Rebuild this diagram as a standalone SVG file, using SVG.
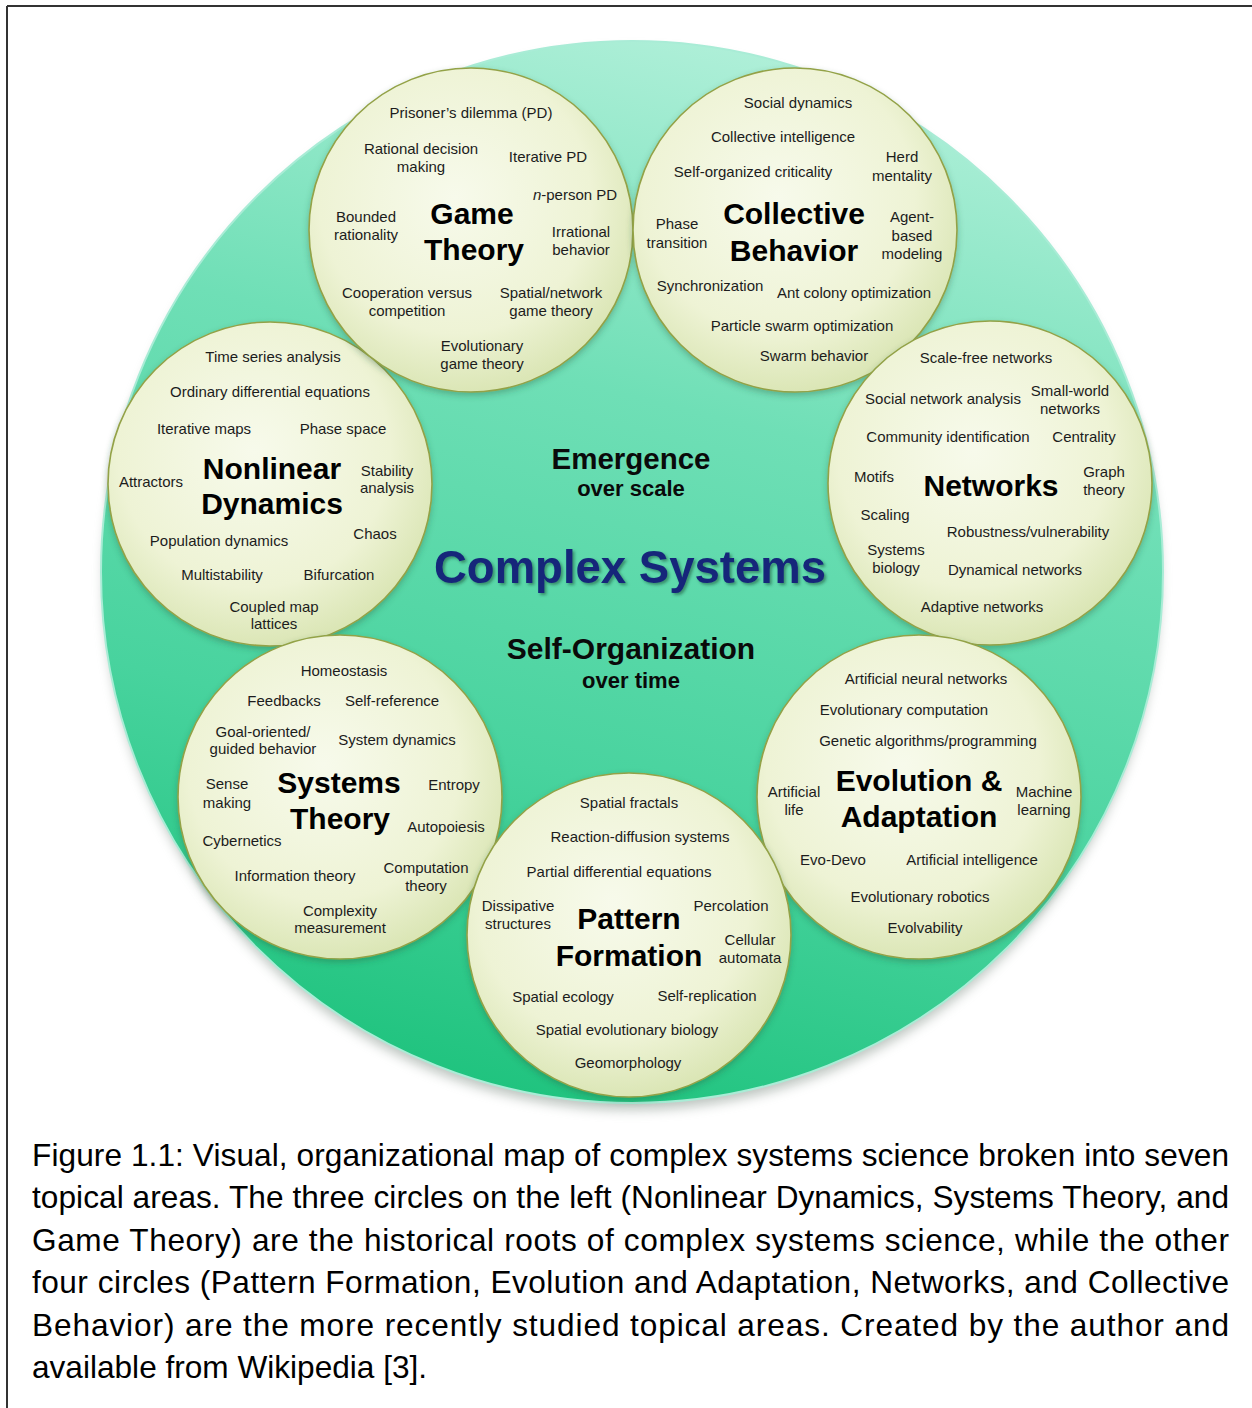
<svg xmlns="http://www.w3.org/2000/svg" width="1252" height="1408" viewBox="0 0 1252 1408">
<style>
.t{font-family:"Liberation Sans",Arial,sans-serif;font-size:15px;fill:#1c1c1c;text-anchor:middle}
.h{font-family:"Liberation Sans",Arial,sans-serif;font-size:30px;font-weight:bold;fill:#000;text-anchor:middle}
.c{font-family:"Liberation Sans",Arial,sans-serif;font-weight:bold;fill:#0a0a0a;text-anchor:middle}
.cap{font-family:"Liberation Sans",Arial,sans-serif;font-size:31.6px;fill:#000}
.node{fill:url(#small);stroke:#93a247;stroke-width:1.6;filter:url(#sh)}
</style>
<defs>
<linearGradient id="big" x1="0.65" y1="0" x2="0.4" y2="1">
<stop offset="0" stop-color="#b2f0da"/>
<stop offset="0.35" stop-color="#6fdfb6"/>
<stop offset="0.7" stop-color="#48d39e"/>
<stop offset="1" stop-color="#1fc37e"/>
</linearGradient>
<radialGradient id="small" cx="0.45" cy="0.4" r="0.6">
<stop offset="0" stop-color="#f7faeb"/>
<stop offset="0.7" stop-color="#eef3d5"/>
<stop offset="1" stop-color="#dbe6b6"/>
</radialGradient>
<filter id="blur" x="-20%" y="-20%" width="140%" height="140%"><feGaussianBlur stdDeviation="6"/></filter>
<filter id="sh" x="-10%" y="-10%" width="120%" height="125%"><feDropShadow dx="0" dy="3" stdDeviation="3" flood-color="#2a5a3a" flood-opacity="0.35"/></filter>
<filter id="tsh" x="-5%" y="-20%" width="110%" height="140%"><feDropShadow dx="2" dy="2" stdDeviation="1.5" flood-color="#1d5a40" flood-opacity="0.6"/></filter>
</defs>
<g id="frame" stroke="#333" stroke-width="2">
<line x1="7" y1="6" x2="1252" y2="6"/>
<line x1="7" y1="6" x2="7" y2="1408"/>
</g>
<g id="background">
<ellipse cx="632" cy="580" rx="528" ry="530" fill="#7a8a80" opacity="0.5" filter="url(#blur)"/>
<circle cx="632" cy="572" r="531" fill="url(#big)" stroke="#a9ecd6" stroke-width="2"/>
</g>
<g id="connectors"/>
<g id="center-labels">
<text class="c" x="631" y="469" font-size="29.5">Emergence</text>
<text class="c" x="631" y="496" font-size="22">over scale</text>
<text class="c" x="630" y="583" font-size="45.5" fill="#13277a" style="fill:#13277a" filter="url(#tsh)">Complex Systems</text>
<text class="c" x="631" y="659" font-size="30">Self-Organization</text>
<text class="c" x="631" y="688" font-size="22">over time</text>
</g>
<g id="nonlinear-dynamics">
<circle class="node" cx="270" cy="484" r="162"/>
<text class="t" x="273" y="362">Time series analysis</text>
<text class="t" x="270" y="397">Ordinary differential equations</text>
<text class="t" x="204" y="434">Iterative maps</text>
<text class="t" x="343" y="434">Phase space</text>
<text class="t" x="151" y="487">Attractors</text>
<text class="h"><tspan x="272" y="479">Nonlinear</tspan><tspan x="272" y="514">Dynamics</tspan></text>
<text class="t"><tspan x="387" y="476">Stability</tspan><tspan x="387" y="493">analysis</tspan></text>
<text class="t" x="219" y="546">Population dynamics</text>
<text class="t" x="375" y="539">Chaos</text>
<text class="t" x="222" y="580">Multistability</text>
<text class="t" x="339" y="580">Bifurcation</text>
<text class="t"><tspan x="274" y="612">Coupled map</tspan><tspan x="274" y="629">lattices</tspan></text>
</g>
<g id="game-theory">
<circle class="node" cx="471" cy="230" r="162"/>
<text class="t" x="471" y="118">Prisoner’s dilemma (PD)</text>
<text class="t"><tspan x="421" y="154">Rational decision</tspan><tspan x="421" y="172">making</tspan></text>
<text class="t" x="548" y="162">Iterative PD</text>
<text class="t" x="575" y="200"><tspan font-style="italic">n</tspan>-person PD</text>
<text class="t"><tspan x="366" y="222">Bounded</tspan><tspan x="366" y="240">rationality</tspan></text>
<text class="h"><tspan x="472" y="224">Game</tspan><tspan x="474" y="260">Theory</tspan></text>
<text class="t"><tspan x="581" y="237">Irrational</tspan><tspan x="581" y="255">behavior</tspan></text>
<text class="t"><tspan x="407" y="298">Cooperation versus</tspan><tspan x="407" y="316">competition</tspan></text>
<text class="t"><tspan x="551" y="298">Spatial/network</tspan><tspan x="551" y="316">game theory</tspan></text>
<text class="t"><tspan x="482" y="351">Evolutionary</tspan><tspan x="482" y="369">game theory</tspan></text>
</g>
<g id="collective-behavior">
<circle class="node" cx="795" cy="230" r="162"/>
<text class="t" x="798" y="108">Social dynamics</text>
<text class="t" x="783" y="142">Collective intelligence</text>
<text class="t" x="753" y="177">Self-organized criticality</text>
<text class="t"><tspan x="902" y="162">Herd</tspan><tspan x="902" y="181">mentality</tspan></text>
<text class="h"><tspan x="794" y="224">Collective</tspan><tspan x="794" y="261">Behavior</tspan></text>
<text class="t"><tspan x="677" y="229">Phase</tspan><tspan x="677" y="248">transition</tspan></text>
<text class="t"><tspan x="912" y="222">Agent-</tspan><tspan x="912" y="241">based</tspan><tspan x="912" y="259">modeling</tspan></text>
<text class="t" x="710" y="291">Synchronization</text>
<text class="t" x="854" y="298">Ant colony optimization</text>
<text class="t" x="802" y="331">Particle swarm optimization</text>
<text class="t" x="814" y="361">Swarm behavior</text>
</g>
<g id="networks">
<circle class="node" cx="990" cy="483" r="162"/>
<text class="t" x="986" y="363">Scale-free networks</text>
<text class="t" x="943" y="404">Social network analysis</text>
<text class="t"><tspan x="1070" y="396">Small-world</tspan><tspan x="1070" y="414">networks</tspan></text>
<text class="t" x="948" y="442">Community identification</text>
<text class="t" x="1084" y="442">Centrality</text>
<text class="t" x="874" y="482">Motifs</text>
<text class="h" x="991" y="496">Networks</text>
<text class="t"><tspan x="1104" y="477">Graph</tspan><tspan x="1104" y="495">theory</tspan></text>
<text class="t" x="885" y="520">Scaling</text>
<text class="t" x="1028" y="537">Robustness/vulnerability</text>
<text class="t"><tspan x="896" y="555">Systems</tspan><tspan x="896" y="573">biology</tspan></text>
<text class="t" x="1015" y="575">Dynamical networks</text>
<text class="t" x="982" y="612">Adaptive networks</text>
</g>
<g id="systems-theory">
<circle class="node" cx="340" cy="797" r="162"/>
<text class="t" x="344" y="676">Homeostasis</text>
<text class="t" x="284" y="706">Feedbacks</text>
<text class="t" x="392" y="706">Self-reference</text>
<text class="t"><tspan x="263" y="737">Goal-oriented/</tspan><tspan x="263" y="754">guided behavior</tspan></text>
<text class="t" x="397" y="745">System dynamics</text>
<text class="t"><tspan x="227" y="789">Sense</tspan><tspan x="227" y="808">making</tspan></text>
<text class="h"><tspan x="339" y="793">Systems</tspan><tspan x="340" y="829">Theory</tspan></text>
<text class="t" x="454" y="790">Entropy</text>
<text class="t" x="446" y="832">Autopoiesis</text>
<text class="t" x="242" y="846">Cybernetics</text>
<text class="t" x="295" y="881">Information theory</text>
<text class="t"><tspan x="426" y="873">Computation</tspan><tspan x="426" y="891">theory</tspan></text>
<text class="t"><tspan x="340" y="916">Complexity</tspan><tspan x="340" y="933">measurement</tspan></text>
</g>
<g id="evolution-adaptation">
<circle class="node" cx="919" cy="797" r="162"/>
<text class="t" x="926" y="684">Artificial neural networks</text>
<text class="t" x="904" y="715">Evolutionary computation</text>
<text class="t" x="928" y="746">Genetic algorithms/programming</text>
<text class="h"><tspan x="919" y="791">Evolution &amp;</tspan><tspan x="919" y="827">Adaptation</tspan></text>
<text class="t"><tspan x="794" y="797">Artificial</tspan><tspan x="794" y="815">life</tspan></text>
<text class="t"><tspan x="1044" y="797">Machine</tspan><tspan x="1044" y="815">learning</tspan></text>
<text class="t" x="833" y="865">Evo-Devo</text>
<text class="t" x="972" y="865">Artificial intelligence</text>
<text class="t" x="920" y="902">Evolutionary robotics</text>
<text class="t" x="925" y="933">Evolvability</text>
</g>
<g id="pattern-formation">
<circle class="node" cx="629" cy="935" r="162"/>
<text class="t" x="629" y="808">Spatial fractals</text>
<text class="t" x="640" y="842">Reaction-diffusion systems</text>
<text class="t" x="619" y="877">Partial differential equations</text>
<text class="t"><tspan x="518" y="911">Dissipative</tspan><tspan x="518" y="929">structures</tspan></text>
<text class="h"><tspan x="629" y="929">Pattern</tspan><tspan x="629" y="966">Formation</tspan></text>
<text class="t" x="731" y="911">Percolation</text>
<text class="t"><tspan x="750" y="945">Cellular</tspan><tspan x="750" y="963">automata</tspan></text>
<text class="t" x="563" y="1002">Spatial ecology</text>
<text class="t" x="707" y="1001">Self-replication</text>
<text class="t" x="627" y="1035">Spatial evolutionary biology</text>
<text class="t" x="628" y="1068">Geomorphology</text>
</g>
<g id="caption">
<text class="cap" x="32" y="1166" textLength="1197" lengthAdjust="spacing">Figure 1.1: Visual, organizational map of complex systems science broken into seven</text>
<text class="cap" x="32" y="1208" textLength="1197" lengthAdjust="spacing">topical areas. The three circles on the left (Nonlinear Dynamics, Systems Theory, and</text>
<text class="cap" x="32" y="1251" textLength="1197" lengthAdjust="spacing">Game Theory) are the historical roots of complex systems science, while the other</text>
<text class="cap" x="32" y="1293" textLength="1197" lengthAdjust="spacing">four circles (Pattern Formation, Evolution and Adaptation, Networks, and Collective</text>
<text class="cap" x="32" y="1336" textLength="1197" lengthAdjust="spacing">Behavior) are the more recently studied topical areas.  Created by the author and</text>
<text class="cap" x="32" y="1378">available from Wikipedia [3].</text>
</g>
</svg>
